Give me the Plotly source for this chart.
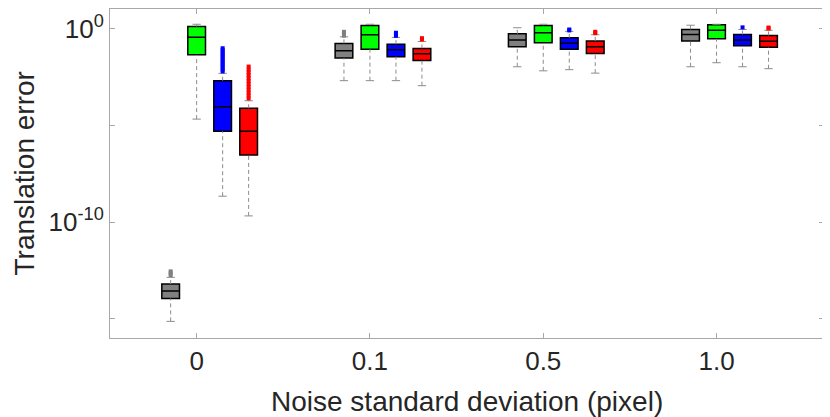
import plotly.graph_objects as go

# noise levels (x categories) and the four methods drawn in each group
noise_labels = ["0", "0.1", "0.5", "1.0"]
methods = ["gray", "green", "blue", "red"]
colors = ["#808080", "#00ff00", "#0000ff", "#ff0000"]

# box statistics as log10 exponents, one row per method, one column per noise level
lower_exp = [
    [-15.14, -2.68, -1.96, -1.96],
    [-4.67, -2.68, -2.17, -1.75],
    [-8.66, -2.68, -2.11, -1.96],
    [-9.68, -2.94, -2.29, -2.06],
]
q1_exp = [
    [-13.95, -1.51, -0.93, -0.62],
    [-1.34, -1.05, -0.72, -0.51],
    [-5.30, -1.44, -1.05, -0.87],
    [-6.53, -1.63, -1.27, -0.95],
]
median_exp = [
    [-13.57, -1.13, -0.58, -0.29],
    [-0.43, -0.30, -0.20, -0.07],
    [-4.03, -1.08, -0.74, -0.58],
    [-5.30, -1.29, -0.93, -0.64],
]
q3_exp = [
    [-13.21, -0.75, -0.25, -0.03],
    [0.12, 0.18, 0.18, 0.21],
    [-2.68, -0.79, -0.46, -0.29],
    [-4.11, -1.01, -0.62, -0.34],
]
upper_exp = [
    [-12.86, -0.41, 0.06, 0.19],
    [0.24, 0.24, 0.24, 0.24],
    [-2.30, -0.44, -0.13, -0.03],
    [-3.72, -0.65, -0.30, -0.07],
]
# outliers above the upper whisker: [method][noise level] -> exponents
outlier_exp = [
    [[-12.75, -12.65, -12.55], [-0.35, -0.25, -0.15], [], []],
    [[], [], [], []],
    [[-2.2, -2.1, -2.0, -1.9, -1.8, -1.7, -1.6, -1.5, -1.4, -1.3, -1.2, -1.1, -1.0],
     [-0.36, -0.28, -0.2], [-0.08, -0.03], [0.08]],
    [[-3.6, -3.45, -3.3, -3.15, -3.0, -2.85, -2.7, -2.55, -2.4, -2.25, -2.1, -1.95],
     [-0.55, -0.48], [-0.22, -0.15], [0.02, 0.07]],
]

offsets = [-0.15, 0.0, 0.15, 0.30]
box_w = 0.102
cap_half = 0.024
whisker_color = "#8c8c8c"
text_color = "#262626"

fig = go.Figure()

for m, name in enumerate(methods):
    xs = [g + 1 + offsets[m] for g in range(len(noise_labels))]
    q1 = [10 ** v for v in q1_exp[m]]
    q3 = [10 ** v for v in q3_exp[m]]
    lo = [10 ** v for v in lower_exp[m]]
    hi = [10 ** v for v in upper_exp[m]]

    # dashed whiskers and caps
    wx, wy, cx, cy = [], [], [], []
    for i, x in enumerate(xs):
        wx += [x, x, None, x, x, None]
        wy += [lo[i], q1[i], None, q3[i], hi[i], None]
        cx += [x - cap_half, x + cap_half, None, x - cap_half, x + cap_half, None]
        cy += [lo[i], lo[i], None, hi[i], hi[i], None]
    fig.add_trace(go.Scatter(x=wx, y=wy, mode="lines", showlegend=False,
                             line=dict(color=whisker_color, width=1, dash="4px,3px"),
                             hoverinfo="skip"))
    fig.add_trace(go.Scatter(x=cx, y=cy, mode="lines", showlegend=False,
                             line=dict(color=whisker_color, width=1), hoverinfo="skip"))

    fig.add_trace(go.Box(
        x=xs, q1=q1, median=[10 ** v for v in median_exp[m]], q3=q3,
        lowerfence=q1, upperfence=q3, width=box_w, name=name,
        fillcolor=colors[m], line=dict(color="black", width=1.5),
        boxpoints=False, showlegend=False,
    ))

    ox, oy = [], []
    for i, x in enumerate(xs):
        for v in outlier_exp[m][i]:
            ox.append(x)
            oy.append(10 ** v)
    if ox:
        fig.add_trace(go.Scatter(x=ox, y=oy, mode="markers", showlegend=False,
                                 marker=dict(symbol="square", size=4, color=colors[m],
                                             line=dict(width=0))))

axis_style = dict(showline=True, linecolor="#a8a8a8", linewidth=1, mirror="ticks",
                  ticks="inside", ticklen=5, tickcolor="#a8a8a8", showgrid=False,
                  zeroline=False, automargin=False,
                  tickfont=dict(size=26, color=text_color))

fig.update_xaxes(range=[0.5, 4.62], tickvals=[1, 2, 3, 4], ticktext=noise_labels,
                 **axis_style)
fig.update_yaxes(type="log", range=[-16, 1.03],
                 tickvals=[1e-10, 1],
                 ticktext=["10<sup>-10</sup>", "10<sup>0</sup>"],
                 minor=dict(tickvals=[1e-15, 1e-5], ticks="inside", ticklen=5,
                            tickcolor="#a8a8a8", showgrid=False),
                 **axis_style)

# axis titles
fig.add_annotation(text="Noise standard deviation (pixel)", xref="paper", yref="paper",
                   x=0.5, y=0, yanchor="middle", yshift=-63, showarrow=False,
                   font=dict(size=28, color=text_color))
fig.add_annotation(text="Translation error", xref="paper", yref="paper",
                   x=0, y=0.5, xanchor="center", xshift=-86, textangle=-90,
                   showarrow=False, font=dict(size=28, color=text_color))

# page body has an 8px margin, so the figure is a bit smaller than the window
fig.update_layout(
    width=822, height=409, boxmode="overlay",
    margin=dict(l=102, r=6, t=1, b=79),
    plot_bgcolor="white", paper_bgcolor="white",
    font=dict(family="Liberation Sans, Arial, sans-serif", color=text_color),
)

fig.write_html("out.html")
